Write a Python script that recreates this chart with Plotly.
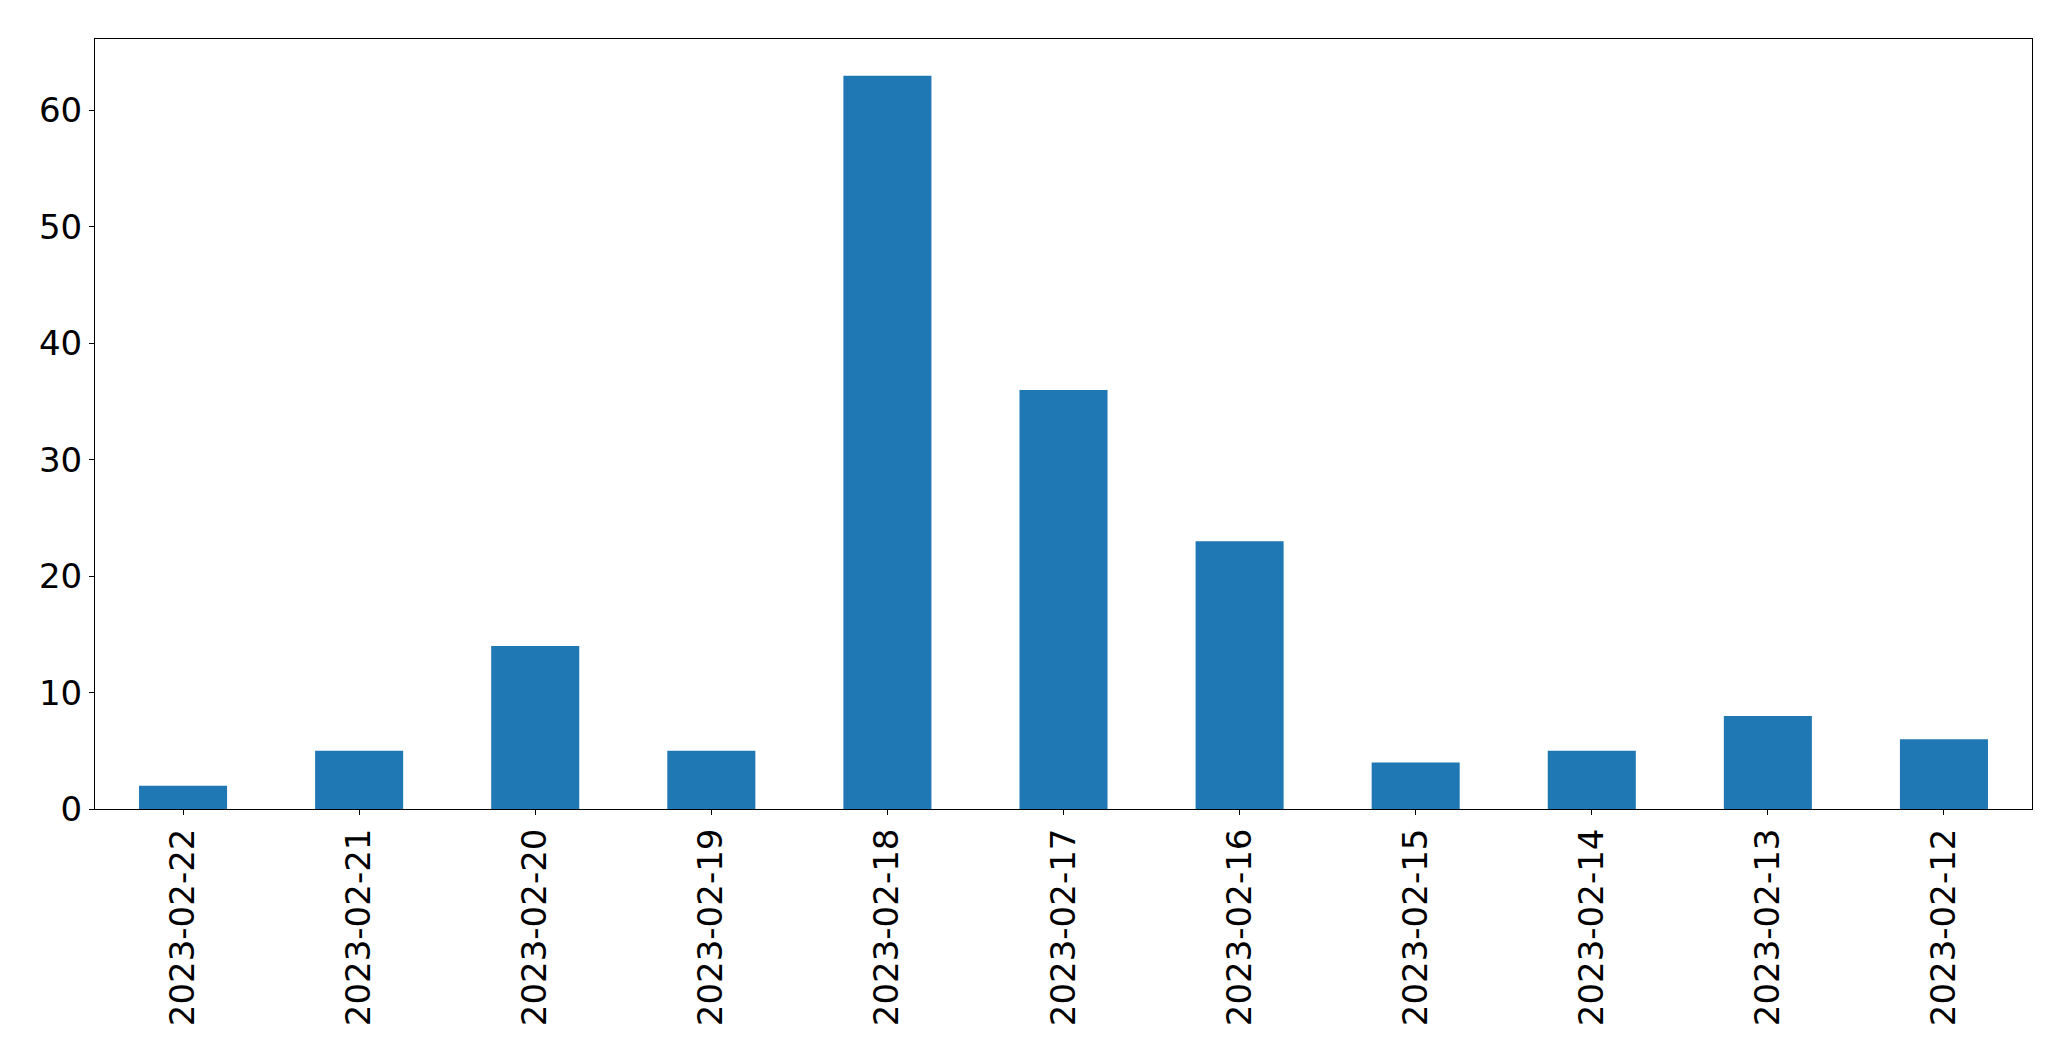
import plotly.graph_objects as go

dates = ["2023-02-22", "2023-02-21", "2023-02-20", "2023-02-19", "2023-02-18",
         "2023-02-17", "2023-02-16", "2023-02-15", "2023-02-14", "2023-02-13", "2023-02-12"]
counts = [2, 5, 14, 5, 63, 36, 23, 4, 5, 8, 6]
y_ticks = [0, 10, 20, 30, 40, 50, 60]

fig = go.Figure(go.Bar(x=dates, y=counts, marker_color="#1f77b4", marker_line_width=0, width=0.5))

# the page body has an 8px margin, so the figure is placed at (8, 8)
fig.update_layout(
    width=2063, height=1053,
    margin=dict(l=87, r=39, t=31, b=252, pad=0),
    plot_bgcolor="white", paper_bgcolor="white",
    font=dict(family="DejaVu Sans", size=34, color="black"),
    showlegend=False,
)
fig.update_xaxes(type="category", range=[-0.5, len(dates) - 0.5], tickangle=-90,
                 showline=True, linecolor="black", linewidth=1, mirror=True,
                 ticks="outside", ticklen=5, tickcolor="black", showgrid=False,
                 zeroline=False, automargin=False)
fig.update_yaxes(range=[0, 66.15], tickvals=y_ticks, ticktext=[str(v) for v in y_ticks],
                 showline=True, linecolor="black", linewidth=1, mirror=True,
                 ticks="outside", ticklen=5, tickcolor="black", showgrid=False,
                 zeroline=False, automargin=False)

fig.write_html("out.html")
